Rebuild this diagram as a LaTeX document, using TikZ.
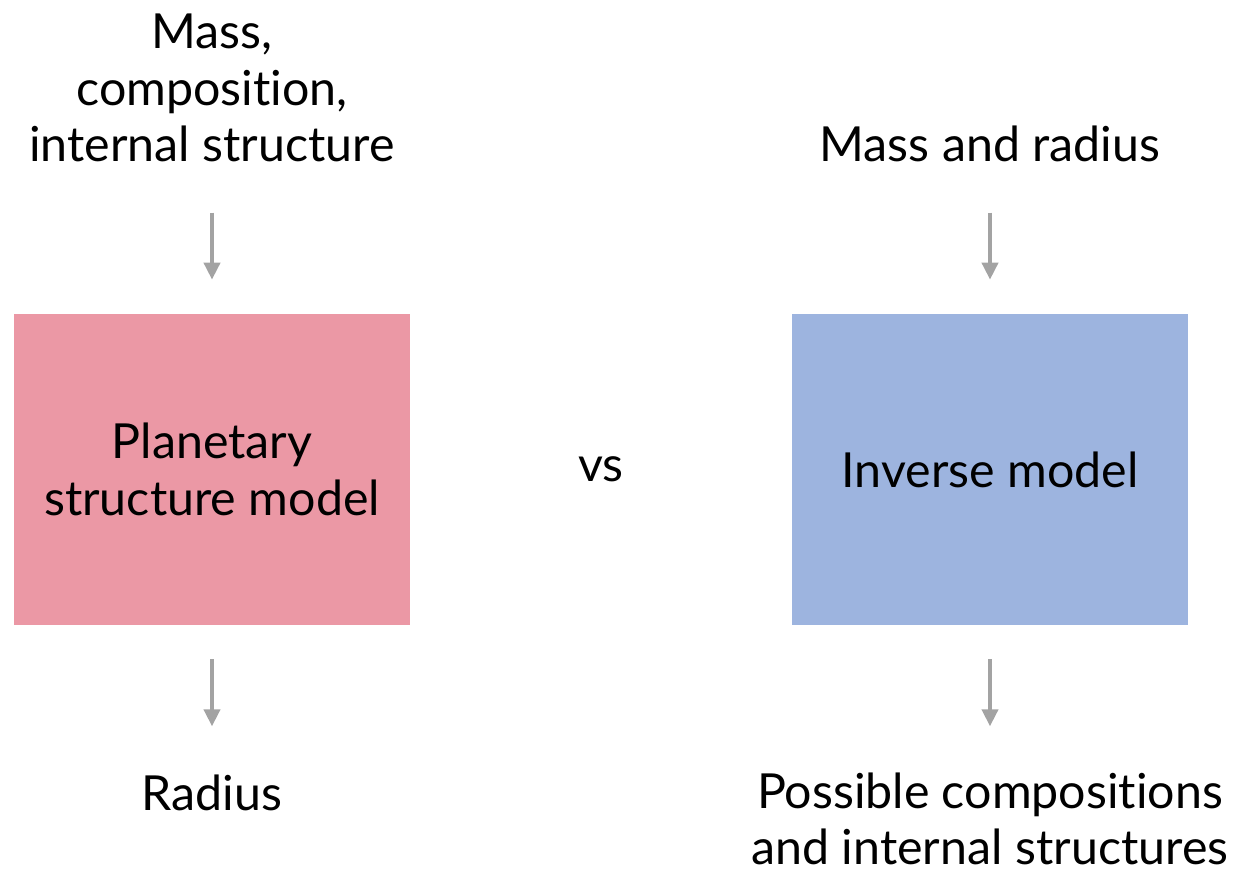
\documentclass[tikz,border=0pt]{standalone}
\usepackage{fontspec}
\setmainfont{Lato}[Ligatures=NoCommon]
\usepackage{tikz}
\usetikzlibrary{arrows.meta, positioning}
\definecolor{planpink}{HTML}{EB98A5}
\definecolor{invblue}{HTML}{9DB4DF}
\definecolor{arrgray}{HTML}{A3A3A3}
\tikzset{
    block/.style={rectangle, minimum width=7.92cm, minimum height=6.22cm, align=center, inner sep=0pt},
    label/.style={align=center, inner sep=0pt, font=\fontsize{27.5}{32.3}\selectfont},
    arrow/.style={draw=arrgray, line width=2.2pt, -{Triangle[length=0.34cm, width=0.32cm]}}
}

\begin{document}
\begin{tikzpicture}
    \useasboundingbox (0,0) rectangle (24.68,-17.44);
    % the two models
    \node[block, fill=planpink, label] (plan) at (4.24,-9.39) {Planetary\\structure model};
    \node[block, fill=invblue, label] (inv) at (19.80,-9.39) {Inverse model};
    \node[label] (vs) at (12.02,-9.39) {vs};
    % inputs and outputs
    \node[label] (planin) at (4.24,-1.76) {Mass,\\composition,\\internal structure};
    \node[label] (invin) at (19.80,-2.88) {Mass and radius};
    \node[label] (planout) at (4.24,-15.86) {Radius};
    \node[label] (invout) at (19.80,-16.38) {Possible compositions\\and internal structures};
    % arrows
    \draw[arrow] ([yshift=2.02cm]plan.north) -- ([yshift=0.68cm]plan.north);
    \draw[arrow] ([yshift=-0.68cm]plan.south) -- ([yshift=-2.02cm]plan.south);
    \draw[arrow] ([yshift=2.02cm]inv.north) -- ([yshift=0.68cm]inv.north);
    \draw[arrow] ([yshift=-0.68cm]inv.south) -- ([yshift=-2.02cm]inv.south);
\end{tikzpicture}
\end{document}
